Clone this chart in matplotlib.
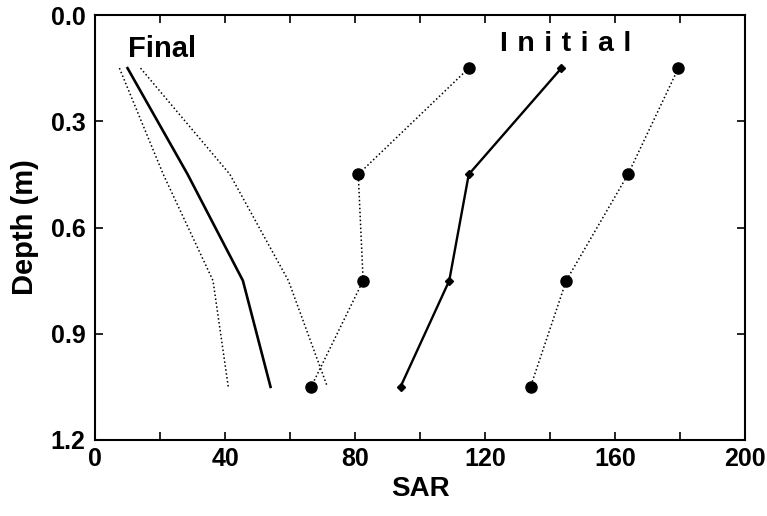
import matplotlib
matplotlib.use("Agg")
import matplotlib.pyplot as plt

depth = [0.15, 0.45, 0.75, 1.05]

# Initial profiles
init_left = [115, 81, 82.5, 66.5]
init_mid = [143.5, 115, 109, 94]
init_right = [179.5, 164, 145, 134]

# Final profiles
final_left = [7.5, 21, 36.3, 41]
final_mid = [10, 28.5, 45.5, 54]
final_right = [14, 41.5, 59.5, 71.5]

xticks = [0, 40, 80, 120, 160, 200]
yticks = [0.0, 0.3, 0.6, 0.9, 1.2]

plt.rcParams['font.family'] = ['Liberation Sans', 'DejaVu Sans']
plt.rcParams['font.weight'] = 'bold'

fig = plt.figure(figsize=(7.67, 5.16), dpi=100)
ax = fig.add_axes([0.1239, 0.1473, 0.8474, 0.8236])

dot = (0, (1, 1.6))
ax.plot(init_left, depth, color='black', lw=1.1, ls=dot, marker='o', ms=8)
ax.plot(init_mid, depth, color='black', lw=1.7, ls='-', marker='D', ms=4.5)
ax.plot(init_right, depth, color='black', lw=1.1, ls=dot, marker='o', ms=8)

ax.plot(final_left, depth, color='black', lw=1.1, ls=dot)
ax.plot(final_mid, depth, color='black', lw=1.9, ls='-')
ax.plot(final_right, depth, color='black', lw=1.1, ls=dot)

ax.text(10, 0.095, 'Final', fontsize=21, fontweight='bold', ha='left', va='center')
sp = '\u2004'
ax.text(124.5, 0.082, sp.join('Initial'), fontsize=20.5, fontweight='bold',
        ha='left', va='center')

ax.set_xlim(0, 200)
ax.set_ylim(1.2, 0.0)
ax.set_xticks(xticks)
ax.set_xticks(range(0, 201, 20), minor=True)
ax.set_yticks(yticks)
ax.set_yticklabels([f'{v:.1f}' for v in yticks])
ax.tick_params(which='both', direction='in', top=True, right=True, length=6, width=1.2,
               labelsize=18, pad=5)
ax.tick_params(axis='y', pad=7)
for lab in ax.get_xticklabels() + ax.get_yticklabels():
    lab.set_fontweight('bold')
for s in ax.spines.values():
    s.set_linewidth(1.5)

ax.set_xlabel('SAR', fontsize=20, fontweight='bold', labelpad=4)
ax.set_ylabel('Depth (m)', fontsize=21, fontweight='bold', labelpad=8)

fig.savefig('out.png', dpi=100)
